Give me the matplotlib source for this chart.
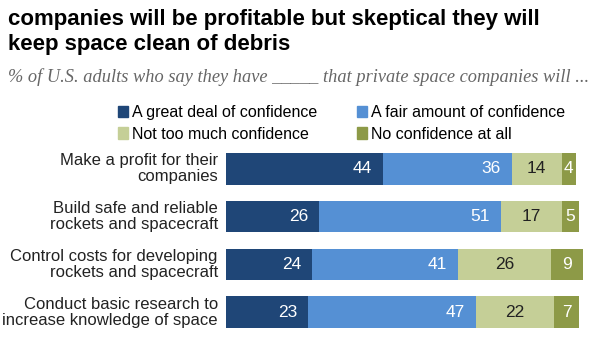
import numpy as np
from matplotlib import pyplot as plt
from matplotlib.patches import Patch

# data
categories = ["Make a profit for their\ncompanies",
              "Build safe and reliable\nrockets and spacecraft",
              "Control costs for developing\nrockets and spacecraft",
              "Conduct basic research to\nincrease knowledge of space"]
great_deal = [44, 26, 24, 23]
fair_amount = [36, 51, 41, 47]
not_too_much = [14, 17, 26, 22]
none_at_all = [4, 5, 9, 7]
series_names = ["A great deal of confidence", "A fair amount of confidence",
                "Not too much confidence", "No confidence at all"]

colors = ["#1f4677", "#5590d4", "#c5cf97", "#8d9a47"]
text_colors = ["white", "white", "#222222", "white"]

sans = ["Liberation Sans", "DejaVu Sans"]

fig = plt.figure(figsize=(6, 3.37), dpi=100)
ax = fig.add_axes([226/600, 0.003, 357/600, 0.567])

series = [great_deal, fair_amount, not_too_much, none_at_all]
y = np.arange(len(categories))
left = np.zeros(len(categories))
for k, vals in enumerate(series):
    vals = np.array(vals)
    ax.barh(y, vals, left=left, height=0.66, color=colors[k], edgecolor="none")
    for i, v in enumerate(vals):
        if k < 2:
            ax.text(left[i] + v - 3, y[i], str(v), ha="right", va="center",
                    color=text_colors[k], fontsize=12.5, family=sans)
        else:
            ax.text(left[i] + v / 2, y[i], str(v), ha="center", va="center",
                    color=text_colors[k], fontsize=12.5, family=sans)
    left = left + vals

ax.set_xlim(0, 100)
ax.set_ylim(len(categories) - 0.5, -0.5)
ax.axis("off")

for i, cat in enumerate(categories):
    ax.text(-2.3, y[i], cat, ha="right", va="center", fontsize=12,
            family=sans, color="#222222", linespacing=1.1)

# title + subtitle
fig.text(0.013, 0.972, "companies will be profitable but skeptical they will\nkeep space clean of debris",
         ha="left", va="top", fontsize=16, fontweight="bold", family=sans,
         color="black", linespacing=1.25)
fig.text(0.013, 0.772, "% of U.S. adults who say they have _____ that private space companies will ...",
         ha="left", va="center", fontsize=13.2, style="italic",
         family=["Liberation Serif", "DejaVu Serif"], color="#666666")

# legend (column order: great, not too much | fair, none)
handles = [Patch(color=c) for c in colors]
order = [0, 2, 1, 3]
fig.legend([handles[i] for i in order], [series_names[i] for i in order],
           ncol=2, loc="upper left", bbox_to_anchor=(0.197, 0.688),
           frameon=False, handlelength=0.6, handleheight=0.7, handletextpad=0.25,
           columnspacing=2.5, labelspacing=0.4, borderaxespad=0, borderpad=0,
           prop={"family": sans, "size": 11.5})

fig.savefig("out.png", dpi=100)
